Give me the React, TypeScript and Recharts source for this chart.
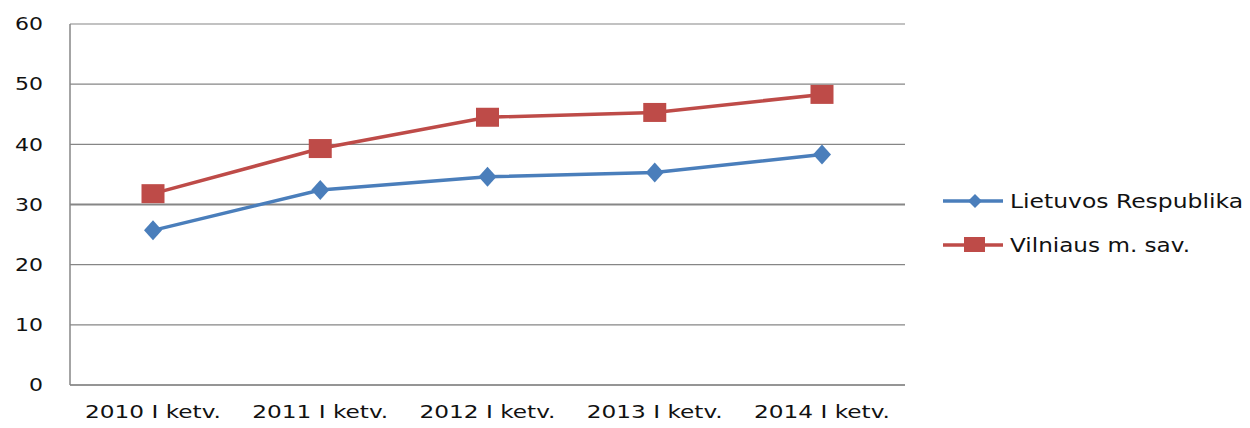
import React from 'react';
import { LineChart, Line, XAxis, YAxis, CartesianGrid, ReferenceLine } from 'recharts';

const categories = ['2010 I ketv.', '2011 I ketv.', '2012 I ketv.', '2013 I ketv.', '2014 I ketv.'];
const lietuva = [25.7, 32.4, 34.6, 35.3, 38.3];
const vilnius = [31.8, 39.3, 44.5, 45.3, 48.3];
const yTicks = [0, 10, 20, 30, 40, 50, 60];

const BLUE = '#4a7ebb';
const RED = '#be4b48';
const GRID = '#868686';
const FONT = '"DejaVu Sans", sans-serif';

const data = categories.map((c, i) => ({ name: c, lt: lietuva[i], vln: vilnius[i] }));

// Source text is stretched wide, so pin its width rather than guess a font size.
const XTick = (props: any) => {
  const { x, y, payload } = props;
  return (
    <text x={x} y={y} dy="0.35em" textAnchor="middle" fontFamily={FONT} fontSize={18}
      fill="#111" textLength={136} lengthAdjust="spacingAndGlyphs">
      {payload.value}
    </text>
  );
};

const YTick = (props: any) => {
  const { x, y, payload } = props;
  const w = String(payload.value).length * 14;
  return (
    <text x={x - w} y={y} dy="0.35em" fontFamily={FONT} fontSize={18}
      fill="#111" textLength={w} lengthAdjust="spacingAndGlyphs">
      {payload.value}
    </text>
  );
};

const Diamond = (props: any) => {
  const { cx, cy } = props;
  if (cx == null || cy == null) return null;
  return <path d={`M${cx},${cy - 10}L${cx + 9},${cy}L${cx},${cy + 10}L${cx - 9},${cy}Z`} fill={BLUE} />;
};

const Square = (props: any) => {
  const { cx, cy } = props;
  if (cx == null || cy == null) return null;
  return <rect x={cx - 11.5} y={cy - 9.5} width={23} height={19} fill={RED} />;
};

const LegendBox = () => (
  <svg width={320} height={100} style={{ position: 'absolute', left: 930, top: 170 }}>
    <line x1={13} x2={73} y1={31} y2={31} stroke={BLUE} strokeWidth={3.5} />
    <path d="M45,24L52,31L45,38L38,31Z" fill={BLUE} />
    <text x={80} y={31} dy="0.35em" fontFamily={FONT} fontSize={19} fill="#111"
      textLength={233} lengthAdjust="spacingAndGlyphs">Lietuvos Respublika</text>
    <line x1={13} x2={73} y1={75} y2={75} stroke={RED} strokeWidth={3.5} />
    <rect x={34} y={67} width={21} height={15} fill={RED} />
    <text x={80} y={75} dy="0.35em" fontFamily={FONT} fontSize={19} fill="#111"
      textLength={180} lengthAdjust="spacingAndGlyphs">Vilniaus m. sav.</text>
  </svg>
);

export default function App() {
  return (
    <div style={{ position: 'relative', width: 1250, height: 428, margin: -8, background: '#fff' }}>
      <LineChart width={1250} height={428} data={data} margin={{ top: 24, right: 345, bottom: 13, left: 0 }}>
        <CartesianGrid vertical={false} stroke={GRID} strokeWidth={1.2} />
        <ReferenceLine y={30} stroke={GRID} strokeWidth={2.2} />
        <XAxis dataKey="name" height={30} tick={<XTick />} tickLine={false} tickSize={0} tickMargin={27}
          axisLine={{ stroke: GRID, strokeWidth: 1.5 }} padding={{ left: 83, right: 83 }} interval={0} />
        <YAxis domain={[0, 60]} ticks={yTicks} width={70} tick={<YTick />} tickLine={false}
          tickSize={0} tickMargin={27} axisLine={{ stroke: GRID, strokeWidth: 1.5 }} />
        <Line dataKey="lt" stroke={BLUE} strokeWidth={3.5} dot={<Diamond />} activeDot={false} isAnimationActive={false} />
        <Line dataKey="vln" stroke={RED} strokeWidth={3.5} dot={<Square />} activeDot={false} isAnimationActive={false} />
      </LineChart>
      <LegendBox />
    </div>
  );
}
